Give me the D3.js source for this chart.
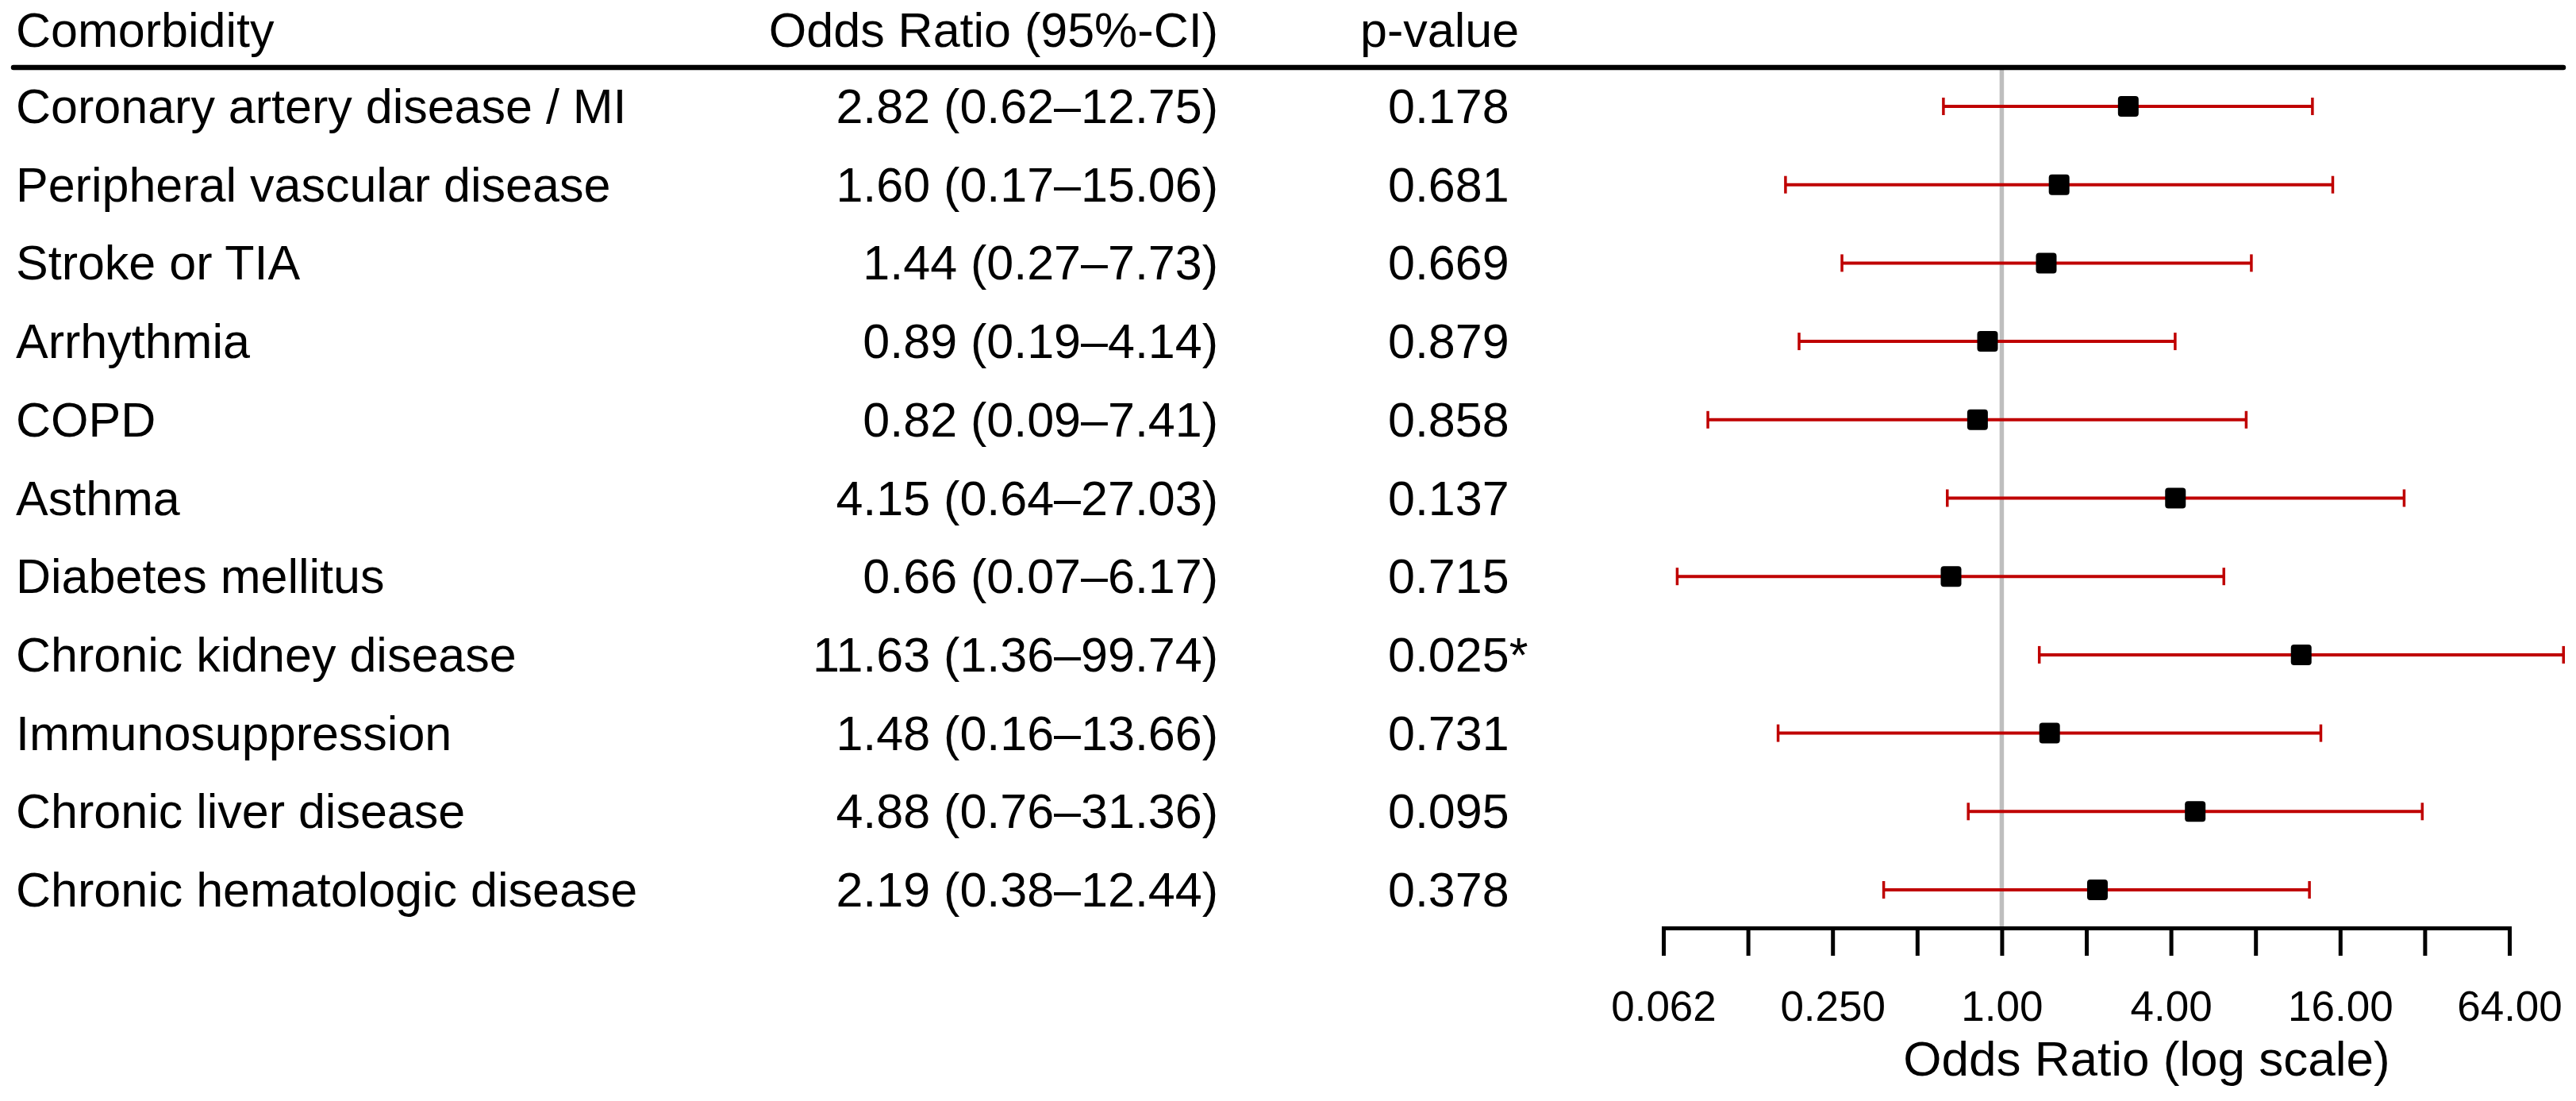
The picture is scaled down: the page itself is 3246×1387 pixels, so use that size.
<!DOCTYPE html>
<html>
<head>
<meta charset="utf-8">
<script src="https://cdn.jsdelivr.net/npm/d3@7"></script>
<style>
  html, body { margin: 0; padding: 0; background: #fff; }
  svg { display: block; }
  text { font-family: "Liberation Sans", Arial, Helvetica, sans-serif; fill: #000; }
</style>
</head>
<body>
<svg id="chart" width="3246" height="1387"></svg>
<script>
// ---- data ----
const categories = [
  "Coronary artery disease / MI",
  "Peripheral vascular disease",
  "Stroke or TIA",
  "Arrhythmia",
  "COPD",
  "Asthma",
  "Diabetes mellitus",
  "Chronic kidney disease",
  "Immunosuppression",
  "Chronic liver disease",
  "Chronic hematologic disease"
];
const oddsRatio = [2.82, 1.60, 1.44, 0.89, 0.82, 4.15, 0.66, 11.63, 1.48, 4.88, 2.19];
const ciLower   = [0.62, 0.17, 0.27, 0.19, 0.09, 0.64, 0.07, 1.36, 0.16, 0.76, 0.38];
const ciUpper   = [12.75, 15.06, 7.73, 4.14, 7.41, 27.03, 6.17, 99.74, 13.66, 31.36, 12.44];
const pValues   = ["0.178", "0.681", "0.669", "0.879", "0.858", "0.137", "0.715", "0.025*", "0.731", "0.095", "0.378"];
const tickValues = [0.0625, 0.125, 0.25, 0.5, 1, 2, 4, 8, 16, 32, 64];
const tickLabels = ["0.062", "", "0.250", "", "1.00", "", "4.00", "", "16.00", "", "64.00"];
const headers = ["Comorbidity", "Odds Ratio (95%-CI)", "p-value"];
const axisTitle = "Odds Ratio (log scale)";

// ---- layout ----
const svg = d3.select("#chart");
const fmt = d3.format(".2f");

const x = d3.scaleLog().base(2).domain([0.0625, 64]).range([2096, 3162]);
const y = d3.scalePoint().domain(categories).range([134, 1121]);

const headerBaseline = 59;
const headerLineY = 85;
const axisY = 1169;
const colName = 20, colOR = 1535, colPHead = 1714, colP = 1749;
const fs = 61;

// header texts
svg.append("text").attr("x", colName).attr("y", headerBaseline)
  .attr("font-size", fs).text(headers[0]);
svg.append("text").attr("x", colOR).attr("y", headerBaseline)
  .attr("font-size", fs).attr("text-anchor", "end").text(headers[1]);
svg.append("text").attr("x", colPHead).attr("y", headerBaseline)
  .attr("font-size", fs).text(headers[2]);

// reference line at OR = 1
svg.append("line")
  .attr("x1", x(1)).attr("x2", x(1))
  .attr("y1", headerLineY).attr("y2", axisY)
  .attr("stroke", "#bebebe").attr("stroke-width", 5.5);

// header rule
svg.append("line")
  .attr("x1", 17).attr("x2", 3230)
  .attr("y1", headerLineY).attr("y2", headerLineY)
  .attr("stroke", "#000").attr("stroke-width", 6.5)
  .attr("stroke-linecap", "round");

const rows = categories.map((c, i) => ({
  name: c, or: oddsRatio[i], lo: ciLower[i], hi: ciUpper[i], p: pValues[i]
}));

const g = svg.append("g");
const row = g.selectAll("g.row").data(rows).join("g").attr("class", "row");

row.append("text").attr("x", colName).attr("y", d => y(d.name) + 21)
  .attr("font-size", fs).text(d => d.name);
row.append("text").attr("x", colOR).attr("y", d => y(d.name) + 21)
  .attr("font-size", fs).attr("text-anchor", "end")
  .text(d => `${fmt(d.or)} (${fmt(d.lo)}\u2013${fmt(d.hi)})`);
row.append("text").attr("x", colP).attr("y", d => y(d.name) + 21)
  .attr("font-size", fs).text(d => d.p);

const red = "#bf0000";
row.append("line")
  .attr("x1", d => x(d.lo)).attr("x2", d => x(d.hi))
  .attr("y1", d => y(d.name)).attr("y2", d => y(d.name))
  .attr("stroke", red).attr("stroke-width", 4);
row.append("line")
  .attr("x1", d => x(d.lo)).attr("x2", d => x(d.lo))
  .attr("y1", d => y(d.name) - 11).attr("y2", d => y(d.name) + 11)
  .attr("stroke", red).attr("stroke-width", 3.5);
row.append("line")
  .attr("x1", d => x(d.hi)).attr("x2", d => x(d.hi))
  .attr("y1", d => y(d.name) - 11).attr("y2", d => y(d.name) + 11)
  .attr("stroke", red).attr("stroke-width", 3.5);
const sq = 26;
row.append("rect")
  .attr("x", d => x(d.or) - sq / 2).attr("y", d => y(d.name) - sq / 2)
  .attr("width", sq).attr("height", sq).attr("rx", 4).attr("ry", 4)
  .attr("fill", "#000");

// axis
const axis = d3.axisBottom(x)
  .tickValues(tickValues)
  .tickFormat((d, i) => tickLabels[i])
  .tickSize(35).tickSizeOuter(0).tickPadding(44);
const ag = svg.append("g").attr("transform", `translate(0,${axisY})`).call(axis);
ag.select(".domain").attr("stroke", "#000").attr("stroke-width", 5)
  .attr("stroke-linecap", "square");
ag.selectAll(".tick line").attr("stroke", "#000").attr("stroke-width", 5);
ag.selectAll(".tick text").attr("font-size", 53)
  .attr("font-family", "Liberation Sans, Arial, sans-serif").attr("fill", "#000");

svg.append("text").attr("x", 2705).attr("y", 1355)
  .attr("font-size", 62).attr("text-anchor", "middle").text(axisTitle);
</script>
</body>
</html>
